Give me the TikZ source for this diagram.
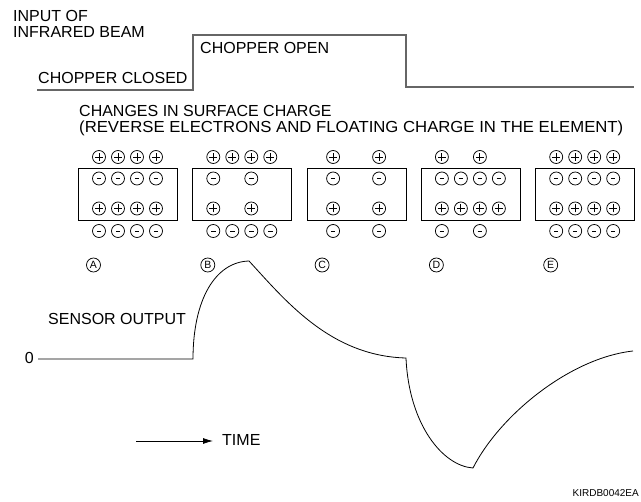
\documentclass[tikz,border=0pt]{standalone}
\usepackage{fontspec}
\setmainfont{Liberation Sans}
\usepackage{graphicx}
\usepackage{tikz}
\usetikzlibrary{arrows.meta, positioning}

\tikzset{
  lbl/.style={inner sep=0pt, font=\fontsize{16}{16.8}\selectfont},
  beam/.style={draw=black!60, line width=1.5pt},
  cell/.style={draw, line width=1pt, minimum width=99pt, minimum height=52pt, inner sep=0pt, anchor=north west},
  chg/.style={circle, draw, line width=0.75pt, minimum size=13pt, inner sep=0pt},
  plus chg/.style={chg, path picture={\draw[line width=0.85pt]
      ([xshift=-4pt]path picture bounding box.center) -- ([xshift=4pt]path picture bounding box.center)
      ([yshift=-4pt]path picture bounding box.center) -- ([yshift=4pt]path picture bounding box.center);}},
  minus chg/.style={chg, path picture={\draw[line width=0.85pt]
      ([xshift=-2.2pt]path picture bounding box.center) -- ([xshift=2.2pt]path picture bounding box.center);}},
  tag/.style={circle, draw, line width=0.75pt, minimum size=14pt, inner sep=0pt, font=\fontsize{10.5}{10.5}\selectfont},
  signal/.style={line width=0.8pt},
}

% column offsets of the charges
\def\four{-28.5,-9.5,9.5,28.5}
\def\two{-28.5,9.5}
\def\wide{-23,23}

\begin{document}
\begin{tikzpicture}[x=1pt, y=-1pt, >={Latex[length=10pt,width=6pt]}]
    \useasboundingbox (0,0) rectangle (641,502);

    % chopper
    \node[lbl, anchor=north west, align=left] (input) at (13,9.7) {INPUT OF\\INFRARED BEAM};
    \node[lbl, anchor=base west] (open) at (200,54) {CHOPPER OPEN};
    \node[lbl, anchor=base west] (closed) at (38,84) {CHOPPER CLOSED};
    \coordinate (cl0) at (37,90);
    \coordinate (cl1) at (193,90);
    \coordinate (op1) at (406,35);
    \coordinate (cl2) at (634,87);
    \draw[beam] (cl0) -- (cl1) |- (op1) |- (cl2);

    % surface charge
    \node[lbl, anchor=north west, align=left] (changes) at (79,104.7)
        {CHANGES IN SURFACE CHARGE\\\scalebox{1.045}[1]{(REVERSE ELECTRONS AND FLOATING CHARGE IN THE ELEMENT)}};

    \foreach \n/\ra/\rb/\rc/\rd [count=\i from 0] in
        {A/\four/\four/\four/\four, B/\four/\two/\two/\four, C/\wide/\wide/\wide/\wide,
         D/\two/\four/\four/\two, E/\four/\four/\four/\four}{
        \pgfmathsetmacro{\cx}{127.5+114.3*\i}
        \edef\la{\ra}\edef\lb{\rb}\edef\lc{\rc}\edef\ld{\rd}
        \node[cell] (box\n) at (\cx-49.5,168) {};
        \foreach \d [count=\k] in \la \node[plus chg] (ta\n\k) at (\cx+\d,157) {};
        \foreach \d [count=\k] in \lb \node[minus chg] (tb\n\k) at (\cx+\d,178.5) {};
        \foreach \d [count=\k] in \lc \node[plus chg] (tc\n\k) at (\cx+\d,208.5) {};
        \foreach \d [count=\k] in \ld \node[minus chg] (td\n\k) at (\cx+\d,231) {};
        \node[tag] (tag\n) at (\cx-34,265) {\n};
    }

    % sensor output
    \node[lbl, anchor=base west] (sensor) at (48,325) {SENSOR OUTPUT};
    \node[lbl, anchor=base east] (zero) at (34,364) {0};
    \coordinate (z0) at (38,359);
    \coordinate (z1) at (193,359);
    \coordinate (pk) at (249,261);
    \coordinate (z2) at (406,358);
    \coordinate (mn) at (473,468);
    \coordinate (z3) at (633,351);
    \draw[signal] (z0) -- (z1)
        .. controls (193,300) and (215,262) .. (pk)
        .. controls (285,300) and (330,356) .. (z2)
        .. controls (409,425) and (443,466) .. (mn)
        .. controls (500,415) and (570,358) .. (z3);

    % time axis
    \node[lbl, anchor=base west] (time) at (222,446) {TIME};
    \coordinate (t0) at (136,441);
    \coordinate (t1) at (213,441);
    \draw[line width=0.8pt, ->] (t0) -- (t1);

    \node[inner sep=0pt, anchor=base east, font=\fontsize{10}{10}\selectfont] (code) at (639,497) {KIRDB0042EA};
\end{tikzpicture}
\end{document}
